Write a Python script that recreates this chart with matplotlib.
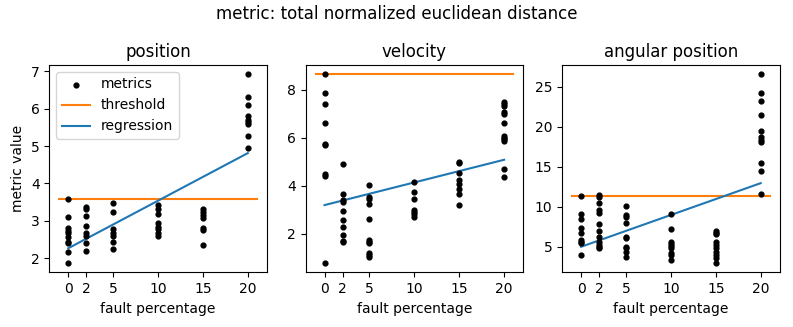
import matplotlib
matplotlib.use("Agg")
import matplotlib.pyplot as plt
import numpy as np

fault_levels = [0, 2, 5, 10, 15, 20]
xticks = [0, 2, 5, 10, 15, 20]
panel_titles = ["position", "velocity", "angular position"]
suptitle = "metric: total normalized euclidean distance"

# position metrics per fault level
pos_0 = [3.58, 3.10, 2.81, 2.73, 2.66, 2.57, 2.44, 2.39, 2.17, 1.87]
pos_2 = [3.36, 3.31, 3.13, 2.86, 2.66, 2.60, 2.41, 2.20]
pos_5 = [3.47, 3.24, 2.77, 2.68, 2.60, 2.44, 2.23]
pos_10 = [3.41, 3.32, 3.18, 2.93, 2.84, 2.77, 2.68, 2.60]
pos_15 = [3.32, 3.23, 3.16, 3.07, 2.81, 2.75, 2.35]
pos_20 = [6.92, 6.31, 6.09, 5.80, 5.71, 5.64, 5.58, 5.26, 4.95]
pos_threshold = 3.58
pos_regression = [2.26, 4.81]

# velocity metrics
vel_0 = [8.64, 7.86, 7.41, 6.63, 5.75, 5.69, 4.48, 4.42, 0.78]
vel_2 = [4.90, 3.66, 3.40, 3.33, 2.94, 2.56, 2.28, 1.94, 1.71, 1.64]
vel_5 = [4.04, 3.54, 3.45, 3.22, 2.59, 1.75, 1.66, 1.61, 1.19, 1.12, 1.03]
vel_10 = [4.14, 3.73, 3.43, 2.97, 2.89, 2.80, 2.68]
vel_15 = [4.99, 4.94, 4.52, 4.24, 4.07, 3.87, 3.66, 3.19]
vel_20 = [7.50, 7.41, 7.31, 7.06, 6.99, 6.62, 6.07, 6.00, 5.94, 5.87, 4.69, 4.38]
vel_threshold = 8.64
vel_regression = [3.19, 5.08]

# angular position metrics
ang_0 = [11.36, 9.07, 8.48, 7.31, 6.68, 5.84, 5.63, 5.43, 3.96]
ang_2 = [11.49, 11.27, 10.52, 9.60, 9.27, 7.81, 6.97, 6.25, 5.63, 5.21, 5.00, 4.80]
ang_5 = [10.11, 8.98, 8.69, 7.94, 6.25, 6.05, 5.00, 4.80, 4.37, 3.75]
ang_10 = [9.10, 7.22, 5.63, 5.34, 5.09, 4.80, 4.17, 3.96, 3.33]
ang_15 = [6.97, 6.76, 6.59, 5.63, 5.21, 4.80, 4.37, 3.96, 3.54, 2.99]
ang_20 = [26.54, 24.25, 23.19, 21.44, 19.52, 18.68, 18.39, 18.05, 15.46, 14.41, 11.57]
ang_threshold = 11.36
ang_regression = [5.00, 12.95]

panels = [
    ([pos_0, pos_2, pos_5, pos_10, pos_15, pos_20], pos_threshold, pos_regression),
    ([vel_0, vel_2, vel_5, vel_10, vel_15, vel_20], vel_threshold, vel_regression),
    ([ang_0, ang_2, ang_5, ang_10, ang_15, ang_20], ang_threshold, ang_regression),
]

fig = plt.figure(figsize=(7.93, 3.27), dpi=100)
lefts = [0.0622, 0.3855, 0.709]
width = 0.274
bottom = 0.1673
height = 0.634

for i, (groups, thr, reg) in enumerate(panels):
    ax = fig.add_axes([lefts[i], bottom, width, height])
    xs = []
    ys = []
    for lvl, vals in zip(fault_levels, groups):
        xs.extend([lvl] * len(vals))
        ys.extend(vals)
    ax.scatter(xs, ys, s=12, color="black", label="metrics", zorder=3)
    ax.plot([fault_levels[0] - 1, fault_levels[-1] + 1], [thr, thr], color="C1", label="threshold")
    ax.plot([fault_levels[0], fault_levels[-1]], reg, color="C0", label="regression")
    ax.set_xticks(xticks)
    ax.set_xlabel("fault percentage")
    ax.set_title(panel_titles[i])
    if i == 0:
        ax.set_ylabel("metric value")
        ax.legend(loc="upper left")

fig.suptitle(suptitle, y=0.985, fontsize=12)
fig.savefig("out.png", dpi=100)
